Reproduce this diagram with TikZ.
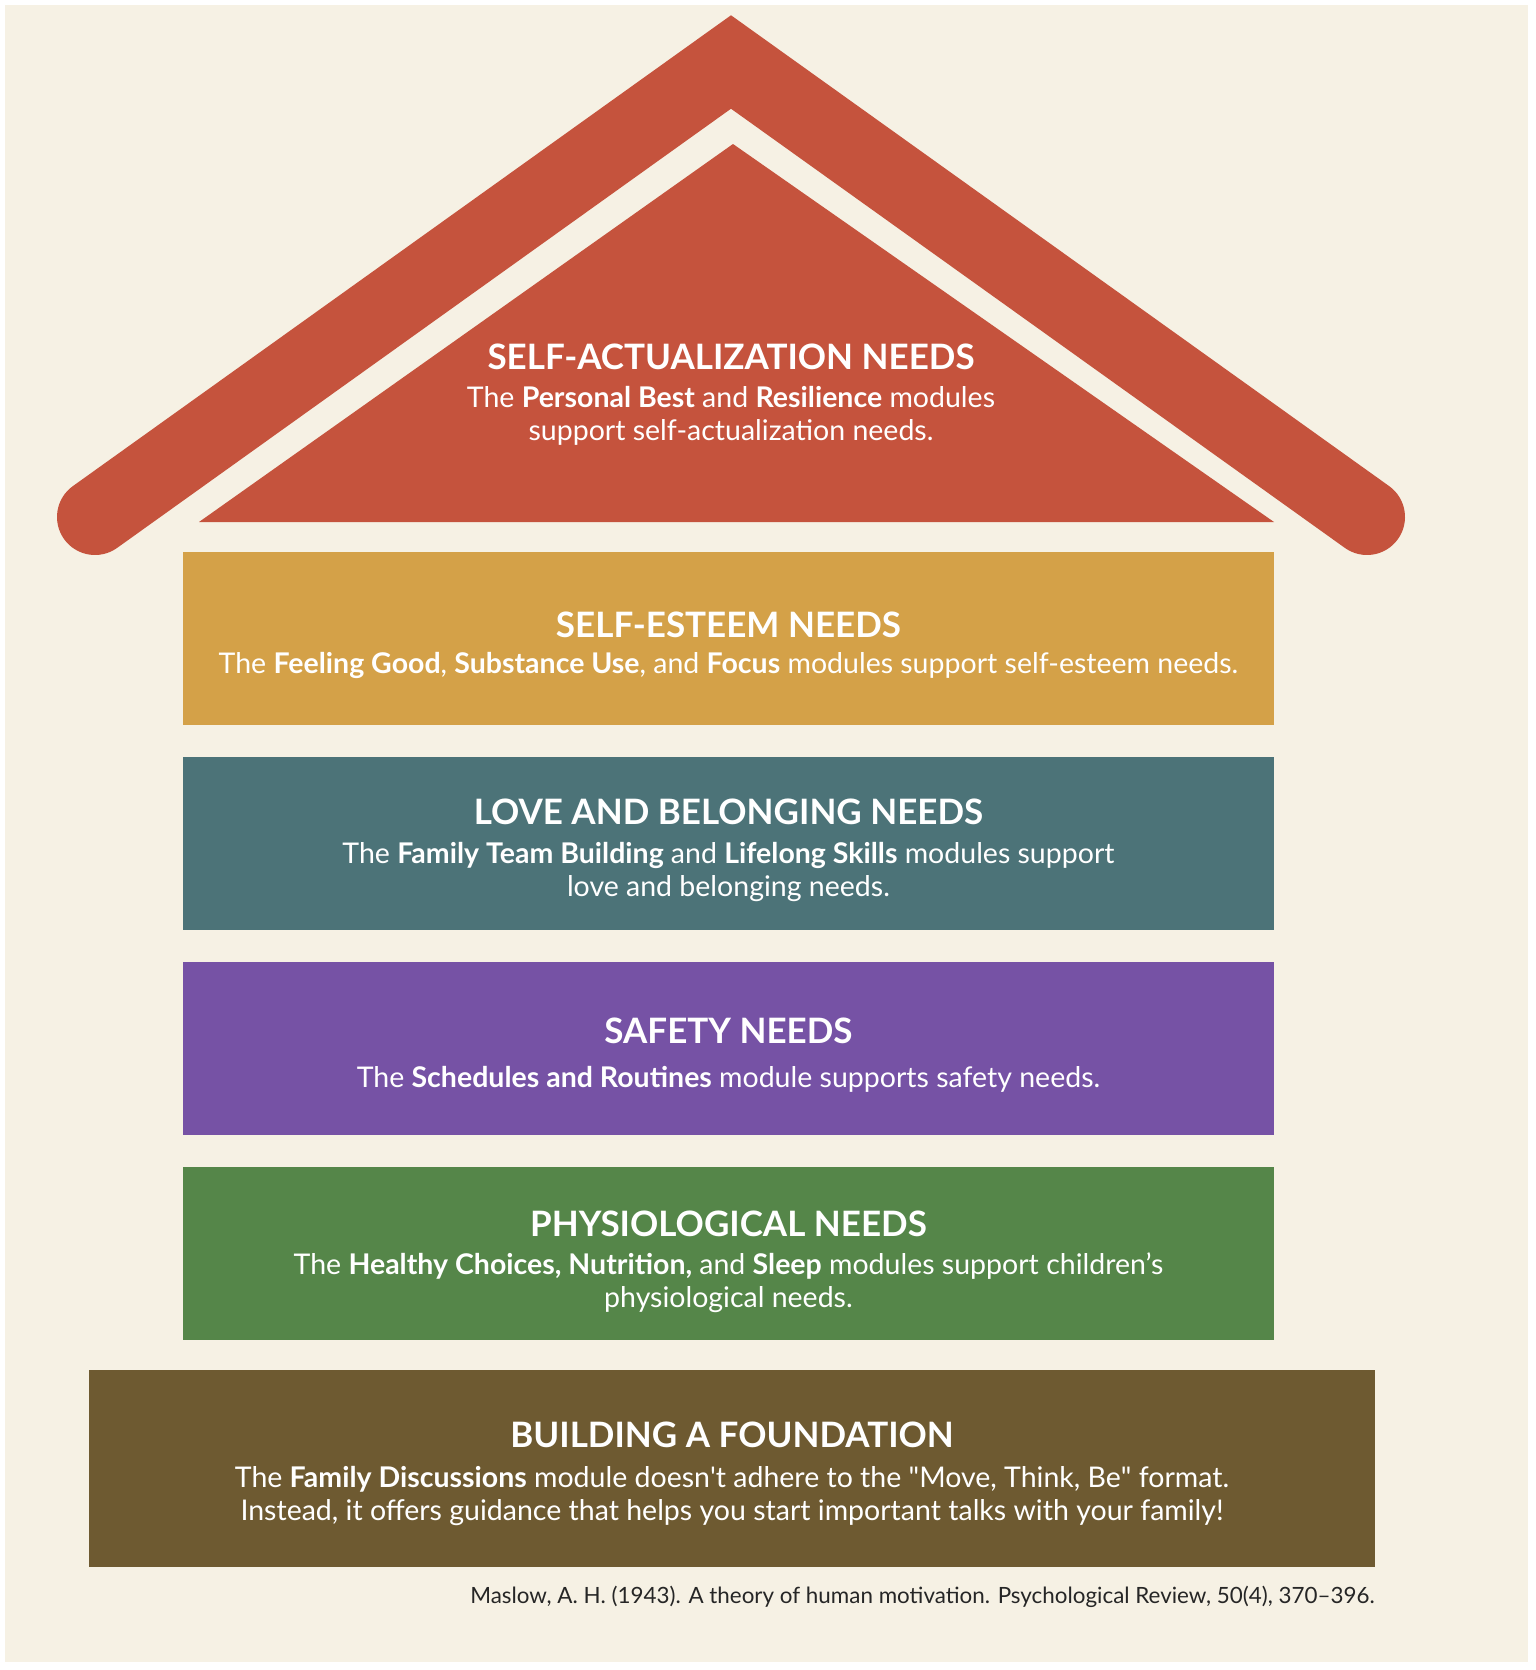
\documentclass[tikz,border=0pt]{standalone}
\usepackage{fontspec}
\setmainfont{Lato}
\usetikzlibrary{positioning}

\definecolor{cream}{HTML}{F6F1E4}
\definecolor{roofred}{HTML}{C5533D}
\definecolor{esteemgold}{HTML}{D4A148}
\definecolor{loveteal}{HTML}{4C7378}
\definecolor{safetypurple}{HTML}{7652A5}
\definecolor{physgreen}{HTML}{558649}
\definecolor{basebrown}{HTML}{6E5A31}
\definecolor{citegray}{HTML}{262626}

\newcommand{\bodyfont}{\fontsize{28.5}{33}\selectfont}
\newcommand{\headfont}{\fontsize{35}{40}\selectfont\bfseries}

\tikzset{
  level/.style={rectangle, minimum width=1091pt, minimum height=173pt, inner sep=0pt},
  leveltext/.style={text=white, align=center, inner sep=0pt, font=\bodyfont},
}

\begin{document}
\begin{tikzpicture}[x=1pt, y=-1pt, node distance=31.5pt]
  \useasboundingbox[fill=white] (0,0) rectangle (1535,1670);
  \fill[cream] (5,5) rectangle (1528,1662);

  % roof
  \coordinate (apex) at (731,62);
  \coordinate (eaveL) at (95,517);
  \coordinate (eaveR) at (1367,517);
  \draw[roofred, line width=76pt, line cap=round, line join=miter] (eaveL) -- (apex) -- (eaveR);
  \coordinate (top) at (733,144);
  \coordinate (baseL) at (199,522);
  \coordinate (baseR) at (1274,522);
  \fill[roofred] (top) -- (baseL) -- (baseR) -- cycle;
  \node[leveltext] (actual) at (731,394.5)
    {{\headfont SELF-ACTUALIZATION NEEDS}\\[4.5pt]
     The \textbf{Personal Best} and \textbf{Resilience} modules\\
     support self-actualization needs.};

  % levels
  \node[level, fill=esteemgold] (esteem) at (728.5,638.5) {};
  \node[level, fill=loveteal] (love) [below=of esteem] {};
  \node[level, fill=safetypurple] (safety) [below=of love] {};
  \node[level, fill=physgreen] (phys) [below=of safety] {};
  \node[level, fill=basebrown, minimum width=1286pt, minimum height=197pt, xshift=3.5pt] (found) [below=29.5pt of phys] {};

  \node[leveltext] (esteem-t) at ([yshift=-7pt]esteem.center)
    {{\headfont SELF-ESTEEM NEEDS}\\[3pt]
     The \textbf{Feeling Good}, \textbf{Substance Use}, and \textbf{Focus} modules support self-esteem needs.};
  \node[leveltext] (love-t) at ([yshift=-7pt]love.center)
    {{\headfont LOVE AND BELONGING NEEDS}\\[5.5pt]
     The \textbf{Family Team Building} and \textbf{Lifelong Skills} modules support\\
     love and belonging needs.};
  \node[leveltext] (safety-t) at ([yshift=-7pt]safety.center)
    {{\headfont SAFETY NEEDS}\\[11pt]
     The \textbf{Schedules and Routines} module supports safety needs.};
  \node[leveltext] (phys-t) at ([yshift=-9pt]phys.center)
    {{\headfont PHYSIOLOGICAL NEEDS}\\[5pt]
     The \textbf{Healthy Choices, Nutrition,} and \textbf{Sleep} modules support children's\\
     physiological needs.};
  \node[leveltext] (found-t) at ([yshift=-6pt]found.center)
    {{\headfont BUILDING A FOUNDATION}\\[7pt]
     The \textbf{Family Discussions} module doesn\textquotesingle t adhere to the \textquotedbl Move, Think, Be\textquotedbl{} format.\\
     Instead, it offers guidance that helps you start important talks with your family!};

  \node[anchor=base east, text=citegray, font=\fontsize{22.4}{26}\selectfont] (cite) at ([xshift=3pt]found.east |- 0,1603)
    {Maslow, A. H. (1943). A theory of human motivation. Psychological Review, 50(4), 370–396.};
\end{tikzpicture}
\end{document}
